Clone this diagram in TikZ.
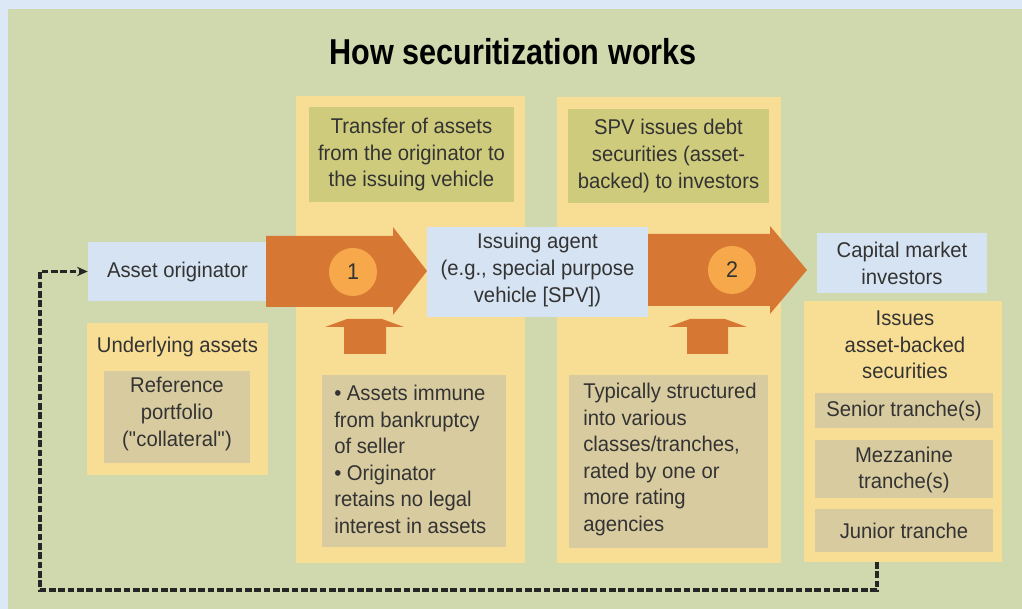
\documentclass[tikz,border=0pt]{standalone}
\usepackage{fontspec}
\setmainfont{Liberation Sans}[FakeStretch=0.95]
\newfontfamily\titlefont{Liberation Sans}[FakeStretch=0.85]
\usetikzlibrary{arrows.meta}
\definecolor{bgblue}{HTML}{DCE8F5}
\definecolor{bggreen}{HTML}{D0D8AE}
\definecolor{yel}{HTML}{F8DE95}
\definecolor{olive}{HTML}{CFCB7C}
\definecolor{tan}{HTML}{D9CBA0}
\definecolor{lblue}{HTML}{D6E3F2}
\definecolor{orng}{HTML}{D67834}
\definecolor{circ}{HTML}{F6A84A}
\definecolor{txt}{HTML}{333333}
\tikzset{
  body/.style={font=\fontsize{16}{19.9}\selectfont, text=txt, inner sep=0pt, align=center},
  box/.style 2 args={draw=none, inner sep=0pt, minimum width=#1*0.75pt, minimum height=#2*0.75pt},
  panel/.style={fill=yel},
  obox/.style={fill=olive},
  tbox/.style={fill=tan},
  bbox/.style={fill=lblue},
  bigarrow/.style={fill=orng},
  numcirc/.style={circle, fill=circ, minimum size=36pt, inner sep=0pt, font=\fontsize{17}{20}\selectfont, text=txt},
  dashline/.style={line width=2.3pt, dash pattern=on 5pt off 2pt, black!85},
}
\begin{document}
\begin{tikzpicture}[x=0.75pt,y=-0.75pt]
\useasboundingbox (0,0) rectangle (1022,609);
% backgrounds
\fill[bgblue] (0,0) rectangle (1022,609);
\fill[bggreen] (8,9) rectangle (1022,609);
% title
\node[font=\titlefont\bfseries\fontsize{27}{30}\selectfont, text=black, inner sep=0pt] (title) at (513,52) {How securitization works};
% column panels
\node[panel, box={229}{467}] (col1) at (410.5,329.5) {};
\node[panel, box={224}{466}] (col2) at (669,330) {};
\node[panel, box={181}{152}] (under) at (177.5,399) {};
\node[panel, box={198}{261}] (abs) at (903,431.5) {};
% top boxes
\node[obox, box={205}{95}] (top1) at (411.5,154.5) {};
\node[body] (top1t) at (411.5,154.5) {Transfer of assets\\from the originator to\\the issuing vehicle};
\node[obox, box={201}{94}] (top2) at (668.5,156) {};
\node[body] (top2t) at (668.5,156) {SPV issues debt\\securities (asset-\\backed) to investors};
% blue boxes
\node[bbox, box={179}{59}] (orig) at (177.5,271.5) {};
\node[body] (origt) at (177.5,271.5) {Asset originator};
\node[bbox, box={221}{90}] (spv) at (537.5,272) {};
\node[body] (spvt) at (537.5,270) {Issuing agent\\(e.g., special purpose\\vehicle [SPV])};
\node[bbox, box={170}{60}] (cap) at (902,263) {};
\node[body] (capt) at (902,263.5) {Capital market\\investors};
% underlying assets
\node[body] (undert) at (177.5,347) {Underlying assets};
\node[tbox, box={146}{92}] (ref) at (177,417) {};
\node[body] (reft) at (177,414) {Reference\\portfolio\\(\textquotedbl collateral\textquotedbl)};
% bottom boxes of columns
\node[tbox, box={184}{172}] (bul) at (414,461) {};
\node[body, align=left, anchor=west] (bult) at (334,459.5) {\textbullet\ Assets immune\\from bankruptcy\\of seller\\\textbullet\ Originator\\retains no legal\\interest in assets};
\node[tbox, box={199}{173}] (typ) at (668.5,461.5) {};
\node[body, align=left, anchor=west] (typt) at (583,459.5) {Typically structured\\into various\\classes/tranches,\\rated by one or\\more rating\\agencies};
% ABS tranches
\node[body] (abst) at (905,345) {Issues\\asset-backed\\securities};
\node[tbox, box={178}{35}] (sen) at (904,410.5) {};
\node[body] (sent) at (904,410.5) {Senior tranche(s)};
\node[tbox, box={178}{58}] (mez) at (904,469) {};
\node[body] (mezt) at (904,470) {Mezzanine\\tranche(s)};
\node[tbox, box={178}{43}] (jun) at (904,530.5) {};
\node[body] (junt) at (904,530.5) {Junior tranche};
% big arrows
\fill[bigarrow] (266,236) -- (393,236) -- (393,227) -- (427,271) -- (393,315) -- (393,307) -- (266,307) -- cycle;
\fill[bigarrow] (648,234) -- (770,234) -- (770,226) -- (807,270) -- (770,314) -- (770,306) -- (648,306) -- cycle;
\node[numcirc] (n1) at (353,272) {1};
\node[numcirc] (n2) at (732,270) {2};
% small up arrows
\fill[bigarrow] (344,354) -- (344,327) -- (325,327) -- (347,319) -- (382,319) -- (404,327) -- (386,327) -- (386,354) -- cycle;
\fill[bigarrow] (687,354) -- (687,327) -- (668,327) -- (690,319) -- (725,319) -- (747,327) -- (728,327) -- (728,354) -- cycle;
% dashed return connector
\coordinate (dstart) at (877,562);
\coordinate (c1) at (877,590);
\coordinate (c2) at (40,590);
\coordinate (c3) at (40,271.5);
\draw[dashline, -{Stealth[length=8pt,width=7pt]}] (dstart) -- (c1) -- (c2) -- (c3) -- (orig.west);
\end{tikzpicture}
\end{document}
